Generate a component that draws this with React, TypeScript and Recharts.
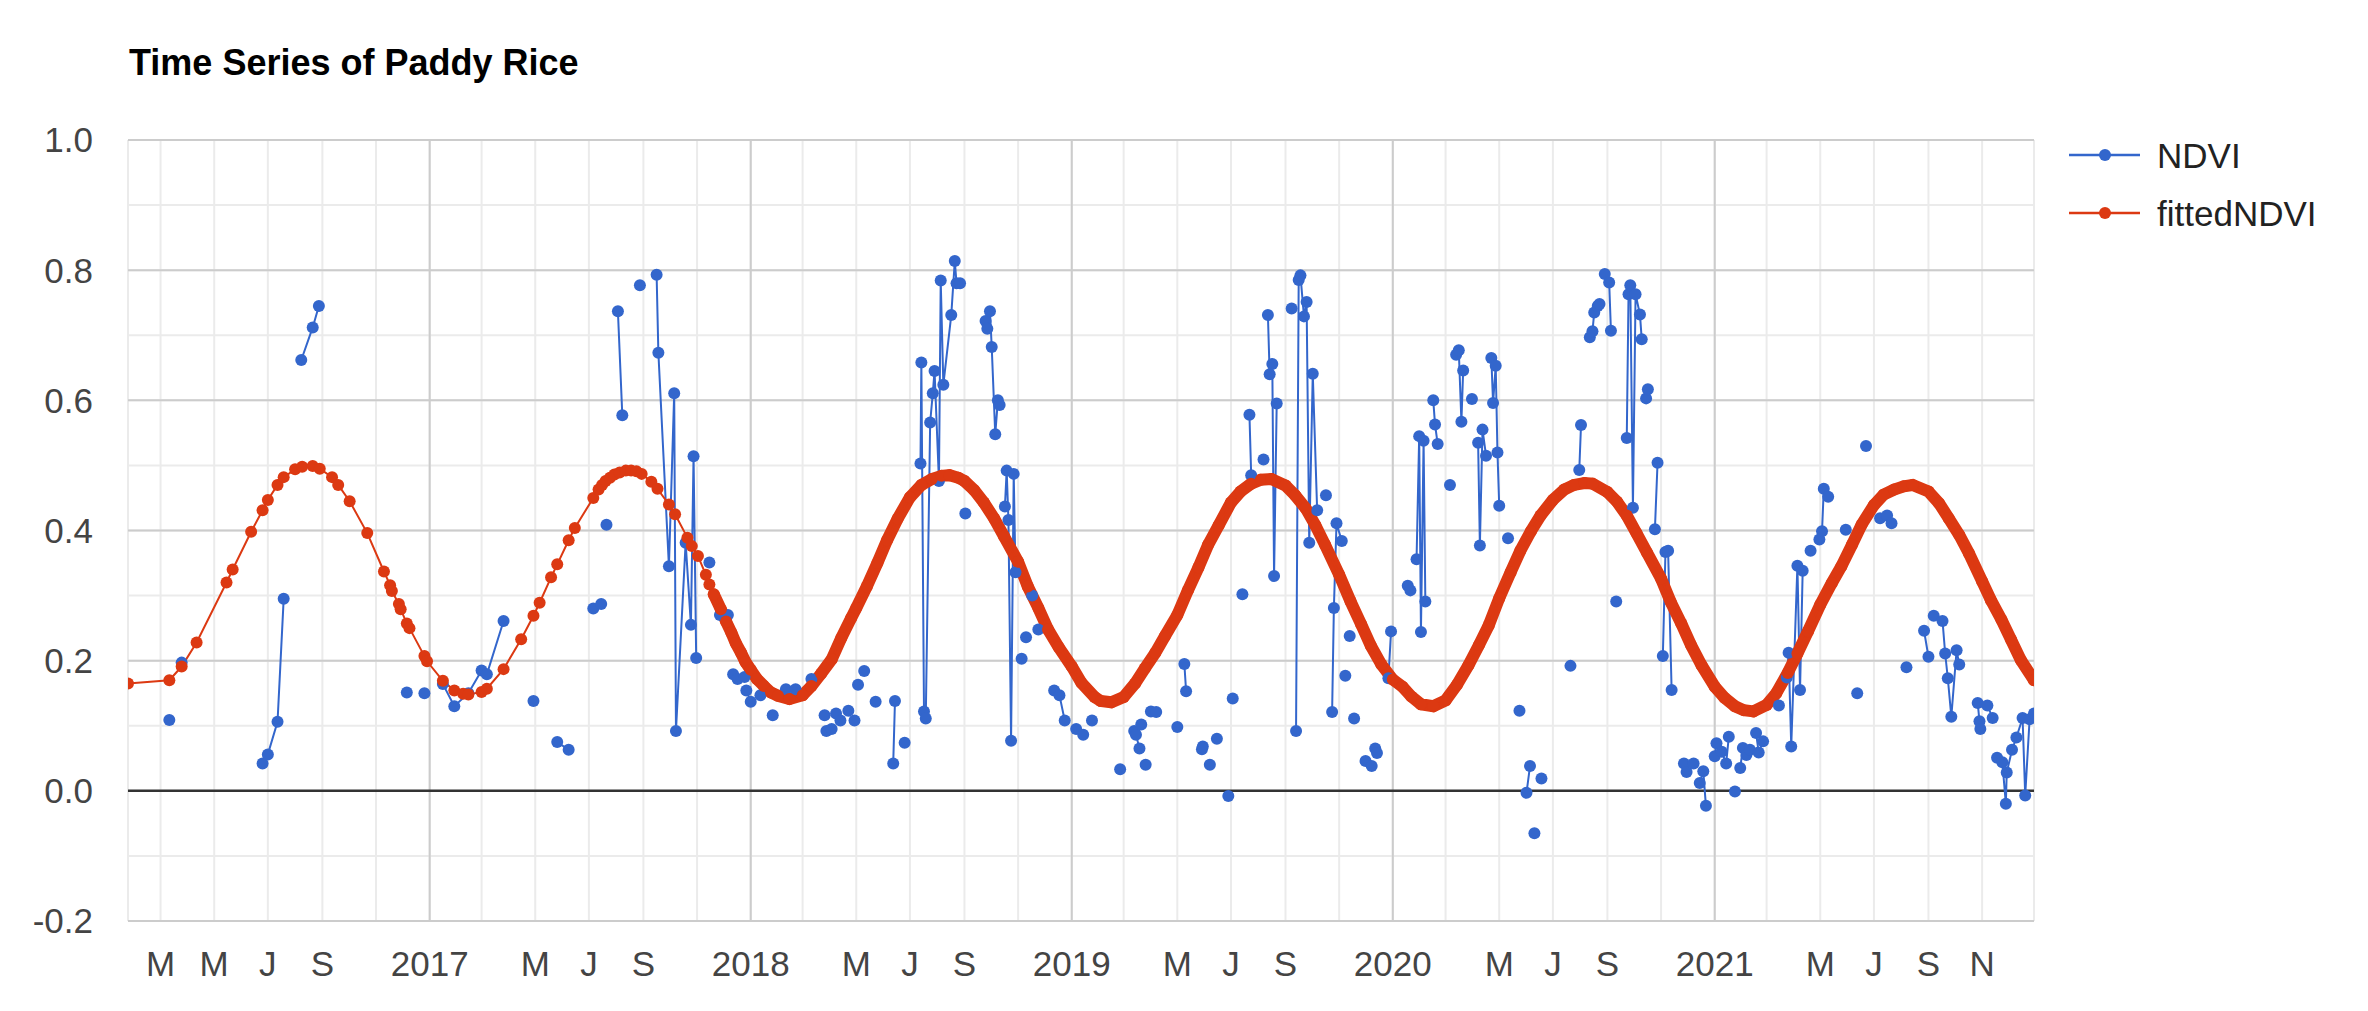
import { LineChart, Line, XAxis, YAxis, CartesianGrid, ReferenceLine } from 'recharts'

type Pt = [string, number]

// NDVI observations, one list of segments per year (a segment is a run of connected points)
const ndvi2016: Pt[][] = [
  [['2016-03-11', 0.109]],
  [['2016-03-25', 0.197]],
  [['2016-06-25', 0.042], ['2016-07-01', 0.056], ['2016-07-12', 0.106], ['2016-07-19', 0.295]],
  [['2016-08-08', 0.662], ['2016-08-21', 0.712], ['2016-08-28', 0.745]],
  [['2016-12-06', 0.151]],
  [['2016-12-26', 0.15]],
]

const ndvi2017: Pt[][] = [
  [['2017-01-16', 0.164], ['2017-01-29', 0.13], ['2017-02-14', 0.15], ['2017-03-01', 0.185], ['2017-03-07', 0.179], ['2017-03-26', 0.261]],
  [['2017-04-29', 0.138]],
  [['2017-05-26', 0.075], ['2017-06-08', 0.063]],
  [['2017-07-06', 0.28], ['2017-07-15', 0.287]],
  [['2017-07-21', 0.409]],
  [['2017-08-03', 0.737], ['2017-08-08', 0.577]],
  [['2017-08-28', 0.777]],
  [['2017-09-16', 0.793], ['2017-09-18', 0.673], ['2017-09-30', 0.345], ['2017-10-06', 0.611], ['2017-10-08', 0.092], ['2017-10-19', 0.381], ['2017-10-25', 0.255], ['2017-10-28', 0.514], ['2017-10-31', 0.204]],
  [['2017-11-15', 0.351]],
  [['2017-11-27', 0.27], ['2017-12-06', 0.27]],
  [['2017-12-12', 0.179], ['2017-12-17', 0.172], ['2017-12-25', 0.175]],
  [['2017-12-27', 0.154], ['2018-01-01', 0.137]],
]

const ndvi2018: Pt[][] = [
  [['2018-01-12', 0.147]],
  [['2018-01-26', 0.116]],
  [['2018-02-10', 0.156], ['2018-02-21', 0.156]],
  [['2018-03-11', 0.172]],
  [['2018-03-26', 0.116]],
  [['2018-03-28', 0.092], ['2018-04-03', 0.095]],
  [['2018-04-08', 0.119], ['2018-04-13', 0.108]],
  [['2018-04-22', 0.123]],
  [['2018-04-29', 0.108]],
  [['2018-05-03', 0.163]],
  [['2018-05-10', 0.184]],
  [['2018-05-23', 0.137]],
  [['2018-06-12', 0.042], ['2018-06-14', 0.138]],
  [['2018-06-25', 0.074]],
  [['2018-07-13', 0.503], ['2018-07-14', 0.658], ['2018-07-17', 0.122], ['2018-07-19', 0.111], ['2018-07-24', 0.566], ['2018-07-27', 0.611], ['2018-07-29', 0.645], ['2018-08-03', 0.476], ['2018-08-05', 0.784], ['2018-08-08', 0.624], ['2018-08-17', 0.731], ['2018-08-21', 0.814], ['2018-08-23', 0.78], ['2018-08-27', 0.78]],
  [['2018-09-02', 0.426]],
  [['2018-09-25', 0.722], ['2018-09-27', 0.71], ['2018-09-30', 0.737], ['2018-10-02', 0.682], ['2018-10-06', 0.548], ['2018-10-09', 0.6], ['2018-10-11', 0.593]],
  [['2018-10-17', 0.437], ['2018-10-19', 0.492], ['2018-10-21', 0.416], ['2018-10-24', 0.077], ['2018-10-27', 0.487], ['2018-10-29', 0.336]],
  [['2018-11-05', 0.203]],
  [['2018-11-10', 0.236]],
  [['2018-11-17', 0.3]],
  [['2018-11-24', 0.248]],
  [['2018-12-12', 0.154], ['2018-12-18', 0.147], ['2018-12-24', 0.108]],
]

const ndvi2019: Pt[][] = [
  [['2019-01-06', 0.095], ['2019-01-14', 0.086]],
  [['2019-01-24', 0.108]],
  [['2019-02-25', 0.033]],
  [['2019-03-13', 0.092], ['2019-03-15', 0.086], ['2019-03-19', 0.065]],
  [['2019-03-21', 0.102]],
  [['2019-03-26', 0.04]],
  [['2019-04-01', 0.122], ['2019-04-07', 0.121]],
  [['2019-05-01', 0.098]],
  [['2019-05-09', 0.195], ['2019-05-11', 0.153]],
  [['2019-05-29', 0.064], ['2019-05-30', 0.068]],
  [['2019-06-07', 0.04]],
  [['2019-06-15', 0.08]],
  [['2019-06-28', -0.008]],
  [['2019-07-03', 0.142]],
  [['2019-07-14', 0.302]],
  [['2019-07-22', 0.578], ['2019-07-24', 0.485]],
  [['2019-08-07', 0.509]],
  [['2019-08-12', 0.731], ['2019-08-14', 0.64], ['2019-08-17', 0.656], ['2019-08-19', 0.33], ['2019-08-22', 0.595]],
  [['2019-09-08', 0.741]],
  [['2019-09-13', 0.092], ['2019-09-16', 0.785], ['2019-09-18', 0.792], ['2019-09-22', 0.729], ['2019-09-25', 0.751], ['2019-09-28', 0.381], ['2019-10-02', 0.641], ['2019-10-07', 0.431]],
  [['2019-10-17', 0.454]],
  [['2019-10-24', 0.121], ['2019-10-26', 0.281], ['2019-10-29', 0.411], ['2019-11-04', 0.384]],
  [['2019-11-08', 0.177]],
  [['2019-11-13', 0.238]],
  [['2019-11-18', 0.111]],
  [['2019-12-01', 0.046], ['2019-12-08', 0.038]],
  [['2019-12-12', 0.065], ['2019-12-14', 0.058]],
  [['2019-12-27', 0.173], ['2019-12-30', 0.245]],
]

const ndvi2020: Pt[][] = [
  [['2020-01-18', 0.315], ['2020-01-21', 0.308]],
  [['2020-01-28', 0.356], ['2020-01-31', 0.545], ['2020-02-02', 0.244], ['2020-02-05', 0.538], ['2020-02-07', 0.291]],
  [['2020-02-16', 0.6], ['2020-02-18', 0.563], ['2020-02-21', 0.533]],
  [['2020-03-06', 0.47]],
  [['2020-03-13', 0.67], ['2020-03-16', 0.677], ['2020-03-19', 0.567], ['2020-03-21', 0.646]],
  [['2020-03-31', 0.602]],
  [['2020-04-07', 0.535], ['2020-04-09', 0.377], ['2020-04-12', 0.555], ['2020-04-16', 0.515]],
  [['2020-04-22', 0.665], ['2020-04-24', 0.596], ['2020-04-27', 0.653], ['2020-04-29', 0.52], ['2020-05-01', 0.438]],
  [['2020-05-11', 0.388]],
  [['2020-05-24', 0.123]],
  [['2020-06-01', -0.003], ['2020-06-05', 0.038]],
  [['2020-06-10', -0.065]],
  [['2020-06-18', 0.019]],
  [['2020-07-21', 0.192]],
  [['2020-07-31', 0.493], ['2020-08-02', 0.562]],
  [['2020-08-12', 0.697], ['2020-08-15', 0.706], ['2020-08-17', 0.735], ['2020-08-21', 0.745], ['2020-08-23', 0.748]],
  [['2020-08-29', 0.794], ['2020-09-03', 0.781], ['2020-09-05', 0.707]],
  [['2020-09-11', 0.291]],
  [['2020-09-23', 0.542], ['2020-09-25', 0.763], ['2020-09-27', 0.777], ['2020-09-30', 0.435], ['2020-10-03', 0.763], ['2020-10-08', 0.732], ['2020-10-10', 0.694]],
  [['2020-10-15', 0.603], ['2020-10-17', 0.617]],
  [['2020-10-25', 0.402], ['2020-10-28', 0.504]],
  [['2020-11-03', 0.207], ['2020-11-06', 0.367], ['2020-11-09', 0.369], ['2020-11-13', 0.155]],
  [['2020-11-27', 0.042], ['2020-11-30', 0.029]],
  [['2020-12-08', 0.042]],
  [['2020-12-15', 0.012], ['2020-12-19', 0.03], ['2020-12-22', -0.023]],
]

const ndvi2021: Pt[][] = [
  [['2021-01-01', 0.053], ['2021-01-03', 0.073]],
  [['2021-01-09', 0.06], ['2021-01-14', 0.042], ['2021-01-17', 0.083]],
  [['2021-01-24', -0.001]],
  [['2021-01-30', 0.035], ['2021-02-02', 0.066], ['2021-02-06', 0.055], ['2021-02-10', 0.063]],
  [['2021-02-17', 0.089], ['2021-02-20', 0.059], ['2021-02-25', 0.076]],
  [['2021-03-15', 0.131]],
  [['2021-03-24', 0.174], ['2021-03-26', 0.212], ['2021-03-29', 0.068], ['2021-04-05', 0.346], ['2021-04-08', 0.155], ['2021-04-11', 0.338]],
  [['2021-04-20', 0.369]],
  [['2021-04-30', 0.386], ['2021-05-03', 0.399], ['2021-05-05', 0.464], ['2021-05-10', 0.452]],
  [['2021-05-30', 0.401]],
  [['2021-06-12', 0.15]],
  [['2021-06-22', 0.53]],
  [['2021-07-08', 0.419], ['2021-07-16', 0.423], ['2021-07-21', 0.411]],
  [['2021-08-07', 0.19]],
  [['2021-08-27', 0.246], ['2021-09-01', 0.206]],
  [['2021-09-07', 0.269], ['2021-09-17', 0.261], ['2021-09-20', 0.211], ['2021-09-23', 0.173], ['2021-09-27', 0.114], ['2021-10-03', 0.216], ['2021-10-06', 0.194]],
  [['2021-10-27', 0.135], ['2021-10-29', 0.107]],
  [['2021-10-30', 0.095]],
  [['2021-11-07', 0.131], ['2021-11-13', 0.112]],
  [['2021-11-18', 0.051], ['2021-11-24', 0.044], ['2021-11-28', -0.02], ['2021-11-29', 0.028], ['2021-12-05', 0.063], ['2021-12-10', 0.082], ['2021-12-17', 0.112], ['2021-12-20', -0.007], ['2021-12-25', 0.11], ['2021-12-30', 0.119]],
]

// harmonic fit
const fitted2016: Pt[] = [
  ['2016-01-24', 0.165], ['2016-03-11', 0.17], ['2016-03-25', 0.191], ['2016-04-11', 0.228],
  ['2016-05-15', 0.32], ['2016-05-22', 0.34], ['2016-06-12', 0.398], ['2016-06-25', 0.431],
  ['2016-07-01', 0.447], ['2016-07-12', 0.47], ['2016-07-19', 0.482], ['2016-08-01', 0.494],
  ['2016-08-09', 0.498], ['2016-08-21', 0.499], ['2016-08-29', 0.495], ['2016-09-12', 0.482],
  ['2016-09-19', 0.47], ['2016-10-02', 0.445], ['2016-10-22', 0.396], ['2016-11-10', 0.337],
  ['2016-11-17', 0.316], ['2016-11-19', 0.307], ['2016-11-27', 0.287], ['2016-11-29', 0.279],
  ['2016-12-06', 0.257], ['2016-12-09', 0.25], ['2016-12-26', 0.207], ['2016-12-29', 0.199],
]

const fitted2017: Pt[] = [
  ['2017-01-16', 0.169], ['2017-01-29', 0.154], ['2017-02-08', 0.149], ['2017-02-14', 0.148],
  ['2017-03-01', 0.152], ['2017-03-07', 0.157], ['2017-03-26', 0.187], ['2017-04-15', 0.233],
  ['2017-04-29', 0.269], ['2017-05-06', 0.289], ['2017-05-19', 0.328], ['2017-05-26', 0.348],
  ['2017-06-08', 0.385], ['2017-06-15', 0.404], ['2017-07-06', 0.45], ['2017-07-12', 0.463],
  ['2017-07-16', 0.47], ['2017-07-20', 0.476], ['2017-07-25', 0.481], ['2017-07-30', 0.486],
  ['2017-08-05', 0.489], ['2017-08-12', 0.492], ['2017-08-18', 0.492], ['2017-08-24', 0.491],
  ['2017-08-30', 0.487], ['2017-09-10', 0.475], ['2017-09-17', 0.464], ['2017-09-30', 0.44],
  ['2017-10-07', 0.425], ['2017-10-21', 0.389], ['2017-10-26', 0.376], ['2017-11-02', 0.361],
  ['2017-11-11', 0.332], ['2017-11-15', 0.317], ['2017-11-20', 0.302], ['2017-11-28', 0.279],
  ['2017-12-04', 0.26], ['2017-12-10', 0.243], ['2017-12-15', 0.227], ['2017-12-21', 0.212],
  ['2017-12-26', 0.198],
]

const fitted2018: Pt[] = [
  ['2018-01-01', 0.186], ['2018-01-08', 0.172], ['2018-01-16', 0.161], ['2018-01-24', 0.151],
  ['2018-02-01', 0.146], ['2018-02-14', 0.141], ['2018-03-01', 0.147], ['2018-03-11', 0.161],
  ['2018-03-22', 0.18], ['2018-04-03', 0.202], ['2018-04-14', 0.235], ['2018-04-25', 0.265],
  ['2018-05-01', 0.281], ['2018-05-13', 0.314], ['2018-05-25', 0.35], ['2018-06-05', 0.385],
  ['2018-06-17', 0.418], ['2018-07-01', 0.451], ['2018-07-14', 0.47], ['2018-07-26', 0.479],
  ['2018-08-06', 0.484], ['2018-08-15', 0.485], ['2018-08-25', 0.481], ['2018-09-01', 0.476],
  ['2018-09-12', 0.462], ['2018-09-23', 0.443], ['2018-10-05', 0.418], ['2018-10-16', 0.391],
  ['2018-11-01', 0.352], ['2018-11-12', 0.314], ['2018-11-24', 0.281], ['2018-12-05', 0.248],
  ['2018-12-17', 0.221],
]

const fitted2019: Pt[] = [
  ['2019-01-01', 0.191], ['2019-01-12', 0.166], ['2019-01-27', 0.144], ['2019-02-03', 0.138],
  ['2019-02-15', 0.136], ['2019-03-01', 0.144], ['2019-03-14', 0.165], ['2019-03-25', 0.188],
  ['2019-04-06', 0.212], ['2019-04-17', 0.238], ['2019-05-01', 0.27], ['2019-05-13', 0.308],
  ['2019-05-25', 0.343], ['2019-06-05', 0.378], ['2019-06-17', 0.408], ['2019-07-01', 0.443],
  ['2019-07-12', 0.46], ['2019-07-24', 0.472], ['2019-08-04', 0.478], ['2019-08-16', 0.479],
  ['2019-09-01', 0.469], ['2019-09-12', 0.454], ['2019-09-24', 0.434], ['2019-10-05', 0.408],
  ['2019-10-16', 0.378], ['2019-11-01', 0.332], ['2019-11-14', 0.291], ['2019-11-26', 0.256],
  ['2019-12-07', 0.223], ['2019-12-19', 0.194],
]

const fitted2020: Pt[] = [
  ['2020-01-01', 0.171], ['2020-01-12', 0.16], ['2020-01-22', 0.145], ['2020-02-02', 0.133],
  ['2020-02-16', 0.13], ['2020-03-01', 0.139], ['2020-03-14', 0.163], ['2020-03-27', 0.193],
  ['2020-04-08', 0.224], ['2020-04-19', 0.254], ['2020-05-01', 0.296], ['2020-05-14', 0.336],
  ['2020-05-25', 0.369], ['2020-06-06', 0.399], ['2020-06-17', 0.423], ['2020-07-01', 0.447],
  ['2020-07-14', 0.463], ['2020-07-25', 0.47], ['2020-08-06', 0.473], ['2020-08-15', 0.472],
  ['2020-09-01', 0.459], ['2020-09-12', 0.444], ['2020-09-23', 0.423], ['2020-10-04', 0.396],
  ['2020-10-16', 0.366], ['2020-11-01', 0.326], ['2020-11-12', 0.29], ['2020-11-24', 0.257],
  ['2020-12-05', 0.224], ['2020-12-17', 0.193],
]

const fitted2021: Pt[] = [
  ['2021-01-01', 0.16], ['2021-01-12', 0.143], ['2021-01-24', 0.13], ['2021-02-03', 0.124],
  ['2021-02-14', 0.122], ['2021-03-01', 0.132], ['2021-03-12', 0.15], ['2021-03-25', 0.181],
  ['2021-04-05', 0.211], ['2021-04-17', 0.245], ['2021-05-01', 0.286], ['2021-05-14', 0.319],
  ['2021-05-25', 0.345], ['2021-06-06', 0.378], ['2021-06-17', 0.409], ['2021-07-01', 0.439],
  ['2021-07-12', 0.455], ['2021-07-24', 0.463], ['2021-08-04', 0.468], ['2021-08-14', 0.47],
  ['2021-09-01', 0.46], ['2021-09-13', 0.442], ['2021-09-24', 0.419], ['2021-10-06', 0.393],
  ['2021-10-17', 0.365], ['2021-11-01', 0.322], ['2021-11-11', 0.293], ['2021-11-23', 0.263],
  ['2021-12-04', 0.232], ['2021-12-15', 0.201], ['2021-12-30', 0.17],
]

// from here on the fit is sampled so densely that the markers merge into a band
const denseFrom = '2017-11-20'

const monthTicks = [
  '2016-03-01', '2016-05-01', '2016-07-01', '2016-09-01', '2016-11-01',
  '2017-01-01', '2017-03-01', '2017-05-01', '2017-07-01', '2017-09-01', '2017-11-01',
  '2018-01-01', '2018-03-01', '2018-05-01', '2018-07-01', '2018-09-01', '2018-11-01',
  '2019-01-01', '2019-03-01', '2019-05-01', '2019-07-01', '2019-09-01', '2019-11-01',
  '2020-01-01', '2020-03-01', '2020-05-01', '2020-07-01', '2020-09-01', '2020-11-01',
  '2021-01-01', '2021-03-01', '2021-05-01', '2021-07-01', '2021-09-01', '2021-11-01',
]
const monthLabels = [
  'M', 'M', 'J', 'S', '',
  '2017', '', 'M', 'J', 'S', '',
  '2018', '', 'M', 'J', 'S', '',
  '2019', '', 'M', 'J', 'S', '',
  '2020', '', 'M', 'J', 'S', '',
  '2021', '', 'M', 'J', 'S', 'N',
]
const yearStarts = ['2017-01-01', '2018-01-01', '2019-01-01', '2020-01-01', '2021-01-01']

const yTicks = [-0.2, -0.1, 0, 0.1, 0.2, 0.3, 0.4, 0.5, 0.6, 0.7, 0.8, 0.9, 1.0]
const yMajor = [-0.2, 0.2, 0.4, 0.6, 0.8, 1.0]

const BLUE = '#3366cc'
const RED = '#dc3912'
const FONT = '"Liberation Sans", Arial, sans-serif'
const DOT_R = 6

const toTime = (d: string) => Date.parse(d)

const ndviData = [...ndvi2016, ...ndvi2017, ...ndvi2018, ...ndvi2019, ...ndvi2020, ...ndvi2021].flatMap((seg) => [
  ...seg.map(([d, v]) => ({ t: toTime(d), v: v as number | null })),
  { t: toTime(seg[seg.length - 1][0]) + 1, v: null },
])

const fittedAll = [...fitted2016, ...fitted2017, ...fitted2018, ...fitted2019, ...fitted2020, ...fitted2021]
const fittedData = fittedAll.map(([d, v]) => ({ t: toTime(d), v }))
const bandData = fittedData.filter((p) => p.t >= toTime(denseFrom))

const tickTimes = monthTicks.map(toTime)
const labelAt = new Map(tickTimes.map((t, i) => [t, monthLabels[i]]))
const xDomain = [toTime(fittedAll[0][0]), toTime(fittedAll[fittedAll.length - 1][0])]

const axisTick = { fill: '#444', fontSize: 35, fontFamily: FONT }

function LegendBox() {
  const rows = [
    { name: 'NDVI', color: BLUE, y: 155 },
    { name: 'fittedNDVI', color: RED, y: 213 },
  ]
  return (
    <svg width={300} height={260} style={{ position: 'absolute', left: 2060, top: 0 }}>
      {rows.map((r) => (
        <g key={r.name}>
          <line x1={9} x2={80} y1={r.y} y2={r.y} stroke={r.color} strokeWidth={2.5} />
          <circle cx={45} cy={r.y} r={DOT_R} fill={r.color} />
          <text x={97} y={r.y + 12.5} fontSize={35} fontFamily={FONT} fill="#222">
            {r.name}
          </text>
        </g>
      ))}
    </svg>
  )
}

export default function App() {
  return (
    <div style={{ position: 'absolute', left: 0, top: 0, width: 2368, height: 1011, background: '#fff' }}>
      <div
        style={{
          position: 'absolute',
          left: 129,
          top: 45,
          fontFamily: FONT,
          fontSize: 36,
          lineHeight: '36px',
          fontWeight: 'bold',
          color: '#000',
          whiteSpace: 'nowrap',
        }}
      >
        Time Series of Paddy Rice
      </div>
      <LegendBox />
      <div style={{ position: 'absolute', left: 0, top: 0 }}>
        <LineChart width={2368} height={1011} margin={{ top: 140, right: 334, bottom: 30, left: 68 }}>
          <CartesianGrid stroke="#ebebeb" strokeWidth={2} />
          {yMajor.map((v) => (
            <ReferenceLine key={'y' + v} y={v} stroke="#cccccc" strokeWidth={2} />
          ))}
          {yearStarts.map((d) => (
            <ReferenceLine key={d} x={toTime(d)} stroke="#cccccc" strokeWidth={2} />
          ))}
          <ReferenceLine y={0} stroke="#333" strokeWidth={2.5} />
          <XAxis
            dataKey="t"
            type="number"
            domain={xDomain}
            allowDataOverflow
            ticks={tickTimes}
            interval={0}
            tickFormatter={(t: number) => labelAt.get(t) ?? ''}
            axisLine={false}
            tickLine={false}
            tickSize={0}
            tickMargin={30}
            height={60}
            tick={axisTick}
          />
          <YAxis
            type="number"
            domain={[-0.2, 1]}
            ticks={yTicks}
            interval={0}
            tickFormatter={(v: number) => (Math.round(v * 10) % 2 === 0 ? v.toFixed(1) : '')}
            axisLine={false}
            tickLine={false}
            tickSize={0}
            tickMargin={35}
            width={60}
            tick={axisTick}
          />
          <Line
            data={ndviData}
            dataKey="v"
            name="NDVI"
            stroke={BLUE}
            strokeWidth={2}
            dot={{ r: DOT_R, fill: BLUE, stroke: BLUE, strokeWidth: 0 }}
            activeDot={false}
            isAnimationActive={false}
          />
          <Line
            data={bandData}
            dataKey="v"
            name="fittedBand"
            stroke={RED}
            strokeWidth={12}
            strokeLinecap="round"
            dot={false}
            activeDot={false}
            legendType="none"
            isAnimationActive={false}
          />
          <Line
            data={fittedData}
            dataKey="v"
            name="fittedNDVI"
            stroke={RED}
            strokeWidth={2}
            dot={{ r: DOT_R, fill: RED, stroke: RED, strokeWidth: 0 }}
            activeDot={false}
            isAnimationActive={false}
          />
        </LineChart>
      </div>
    </div>
  )
}
